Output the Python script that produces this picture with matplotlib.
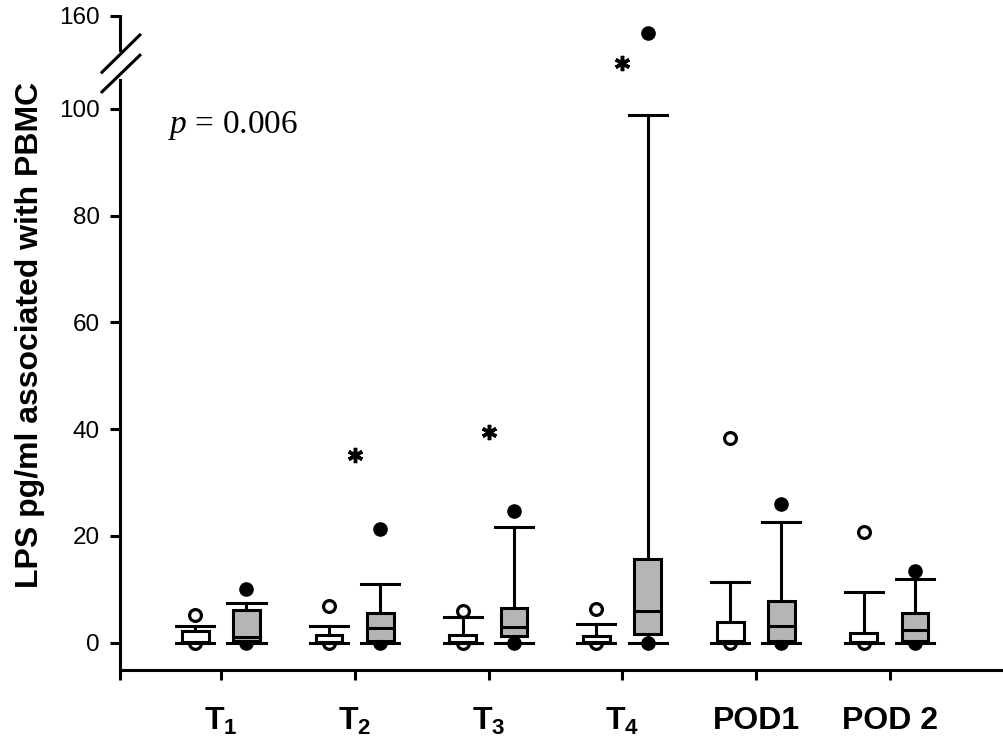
import matplotlib
matplotlib.use("Agg")
import matplotlib.pyplot as plt
import numpy as np

plt.rcParams['font.family'] = ['Liberation Sans', 'DejaVu Sans']
plt.rcParams['mathtext.fontset'] = 'custom'
plt.rcParams['mathtext.rm'] = 'Liberation Serif'
plt.rcParams['mathtext.it'] = 'Liberation Serif:italic'
plt.rcParams['mathtext.bf'] = 'Liberation Sans:bold'

# Datos
grupos = [r'$\mathbf{T_1}$', r'$\mathbf{T_2}$', r'$\mathbf{T_3}$', r'$\mathbf{T_4}$', 'POD1', 'POD 2']

# cajas blancas (controles)
bl_q1 = [0, 0, 0, 0, 0, 0]
bl_med = [0.2, 0.2, 0.2, 0.2, 0.3, 0.2]
bl_q3 = [2.2, 1.5, 1.5, 1.2, 3.9, 1.75]
bl_lo = [0, 0, 0, 0, 0, 0]
bl_hi = [3.2, 3.2, 4.9, 3.6, 11.4, 9.6]
bl_out = [5.2, 6.8, 6.0, 6.3, 38.4, 20.7]

# cajas grises (pacientes)
gr_q1 = [0.3, 0.3, 1.2, 1.7, 0.4, 0.3]
gr_med = [1.1, 2.8, 2.9, 6.0, 3.1, 2.4]
gr_q3 = [6.2, 5.6, 6.5, 15.7, 7.9, 5.6]
gr_lo = [0, 0, 0, 0, 0, 0]
gr_hi = [7.5, 11.0, 21.7, 98.9, 22.7, 12.0]
gr_out = [10.1, 21.3, 24.7, 149, 26.0, 13.5]
gr_cero_encima = [False, False, True, True, False, False]

# asteriscos (grupo, valor)
ast_grupo = [2, 3, 4]
ast_valor = [35.1, 39.5, 129.7]

yticks = [0, 20, 40, 60, 80, 100, 160]

# escala con corte por encima de 100
k = 0.29
def fwd(v):
    v = np.asarray(v, dtype=float)
    return np.where(v <= 100, v, 100 + (v - 100) * k)
def inv(t):
    t = np.asarray(t, dtype=float)
    return np.where(t <= 100, t, 100 + (t - 100) / k)

W, H = 1004, 756
fig = plt.figure(figsize=(W / 100, H / 100), dpi=100)
ax = fig.add_axes([120.5 / W, 1 - 670 / H, (1002 - 120.5) / W, 654 / H])
ax.set_yscale('function', functions=(fwd, inv))

pos = np.arange(1, 7)
lw = 2.2

def stats(q1, med, q3, lo, hi, out):
    return [dict(q1=a, med=b, q3=c, whislo=d, whishi=e, fliers=[f])
            for a, b, c, d, e, f in zip(q1, med, q3, lo, hi, out)]

comun = dict(widths=0.2, capwidths=0.285, patch_artist=True, showfliers=True,
             whiskerprops=dict(color='black', lw=lw),
             capprops=dict(color='black', lw=lw),
             medianprops=dict(color='black', lw=lw))

ax.bxp(stats(bl_q1, bl_med, bl_q3, bl_lo, bl_hi, bl_out), positions=pos - 0.193,
       boxprops=dict(facecolor='white', edgecolor='black', lw=lw),
       flierprops=dict(marker='o', mfc='white', mec='black', ms=8.5, mew=2.3),
       **comun)
ax.bxp(stats(gr_q1, gr_med, gr_q3, gr_lo, gr_hi, gr_out), positions=pos + 0.19,
       boxprops=dict(facecolor='#b5b5b5', edgecolor='black', lw=lw),
       flierprops=dict(marker='o', mfc='black', mec='black', ms=9.5, mew=1),
       **comun)

# valores en cero
ax.plot(pos - 0.193, bl_q1, 'o', mfc='white', mec='black', ms=8.5, mew=2.3, zorder=1)
for p, enc in zip(pos + 0.19, gr_cero_encima):
    ax.plot(p, 0, 'o', color='black', ms=9.5, zorder=4 if enc else 1)

ax.plot(ast_grupo, ast_valor, ls='none', marker=(6, 2, 0), color='black',
        ms=11, mew=2.5)

ax.text(0.054, 0.821, r'$p$ = 0.006', transform=ax.transAxes,
        family='Liberation Serif', fontsize=24, va='baseline')

ax.set_ylim(-5.1, 160)
xl0 = 0.248
ax.set_xlim(xl0, 6.84)
ax.set_yticks(yticks)
ax.set_yticklabels([str(t) for t in yticks])
ax.set_xticks([xl0] + list(pos))
ax.set_xticklabels([''] + grupos, fontsize=23, fontweight='bold')
ax.tick_params(axis='y', direction='out', length=7, width=lw, labelsize=17.5, pad=8)
ax.tick_params(axis='x', direction='out', length=7, width=lw, pad=19)

for s in ['top', 'right', 'left']:
    ax.spines[s].set_visible(False)
ax.spines['bottom'].set_linewidth(lw)

# eje y con corte
ax.plot([0, 0], [0, 0.902], transform=ax.transAxes, color='black', lw=lw, clip_on=False)
ax.plot([0, 0], [0.948, 1.0], transform=ax.transAxes, color='black', lw=lw, clip_on=False)
ax.plot([-0.021, 0.022], [0.914, 0.971], transform=ax.transAxes, color='black', lw=lw, clip_on=False)
ax.plot([-0.021, 0.022], [0.884, 0.940], transform=ax.transAxes, color='black', lw=lw, clip_on=False)

ax.set_ylabel('LPS pg/ml associated with PBMC', fontsize=23, fontweight='bold')
ax.yaxis.set_label_coords(-0.086, 0.512)

fig.savefig('out.png', dpi=100)
